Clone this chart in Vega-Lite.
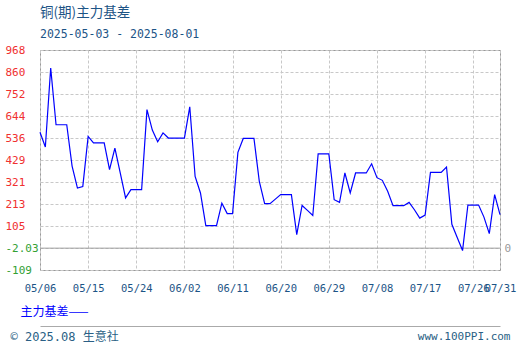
{
  "$schema": "https://vega.github.io/schema/vega-lite/v6.json",
  "width": 460,
  "height": 220,
  "autosize": {"type": "none"},
  "padding": {"left": 40, "top": 50, "right": 20, "bottom": 80},
  "background": "white",
  "title": {
    "text": "铜(期)主力基差",
    "subtitle": "2025-05-03 - 2025-08-01",
    "anchor": "start",
    "frame": "group",
    "font": "Noto Sans CJK SC",
    "fontSize": 13.5,
    "fontWeight": "normal",
    "color": "#1c5486",
    "subtitleFont": "DejaVu Sans Mono",
    "subtitleFontSize": 11.5,
    "subtitleColor": "#1c5486",
    "subtitlePadding": 9,
    "offset": 4
  },
  "config": {"view": {"stroke": "#999", "strokeWidth": 1}},
  "layer": [
    {
      "data": {"values": [{"base": -2.03, "start": "2025-05-06", "end": "2025-07-31"}]},
      "mark": {"type": "rule", "color": "#a0a0a0", "strokeWidth": 1},
      "encoding": {
        "x": {
          "field": "start",
          "type": "temporal",
          "scale": {"type": "utc", "domain": [{"year": 2025, "month": 5, "date": 6, "utc": true}, {"year": 2025, "month": 7, "date": 31, "utc": true}], "nice": false},
          "axis": {
            "orient": "bottom",
            "offset": 56,
            "grid": false,
            "labels": false,
            "ticks": false,
            "domain": true,
            "domainColor": "#aaaaaa",
            "domainWidth": 1,
            "title": "© 2025.08 生意社",
            "titleX": -30,
            "titleY": 10,
            "titleAlign": "left",
            "titleBaseline": "middle",
            "titleFont": "DejaVu Sans Mono, Noto Sans CJK SC",
            "titleFontSize": 12,
            "titleFontWeight": "normal",
            "titleColor": "#2a5f85"
          }
        },
        "x2": {"field": "end"},
        "y": {
          "field": "base",
          "type": "quantitative",
          "scale": {"domain": [-109, 968], "nice": false, "zero": false},
          "axis": {
            "orient": "right",
            "values": [-2.03],
            "labelExpr": "'0'",
            "labelColor": "#999999",
            "labelFont": "DejaVu Sans Mono",
            "labelFontSize": 11,
            "labelPadding": 4,
            "ticks": false,
            "domain": false,
            "grid": false,
            "title": "www.100PPI.com",
            "titleAngle": 0,
            "titleX": 10,
            "titleY": 286,
            "titleAlign": "right",
            "titleBaseline": "middle",
            "titleFont": "DejaVu Sans Mono",
            "titleFontSize": 11,
            "titleFontWeight": "normal",
            "titleColor": "#2a5f85"
          }
        }
      }
    },
    {
      "data": {"values": [
        {"date": "2025-05-06", "basis": 565},
        {"date": "2025-05-07", "basis": 493},
        {"date": "2025-05-08", "basis": 880},
        {"date": "2025-05-09", "basis": 602},
        {"date": "2025-05-10", "basis": 602},
        {"date": "2025-05-11", "basis": 602},
        {"date": "2025-05-12", "basis": 400},
        {"date": "2025-05-13", "basis": 292},
        {"date": "2025-05-14", "basis": 300},
        {"date": "2025-05-15", "basis": 545},
        {"date": "2025-05-16", "basis": 513},
        {"date": "2025-05-17", "basis": 513},
        {"date": "2025-05-18", "basis": 513},
        {"date": "2025-05-19", "basis": 382},
        {"date": "2025-05-20", "basis": 488},
        {"date": "2025-05-21", "basis": 366},
        {"date": "2025-05-22", "basis": 244},
        {"date": "2025-05-23", "basis": 284},
        {"date": "2025-05-24", "basis": 284},
        {"date": "2025-05-25", "basis": 284},
        {"date": "2025-05-26", "basis": 676},
        {"date": "2025-05-27", "basis": 576},
        {"date": "2025-05-28", "basis": 519},
        {"date": "2025-05-29", "basis": 562},
        {"date": "2025-05-30", "basis": 537},
        {"date": "2025-05-31", "basis": 537},
        {"date": "2025-06-01", "basis": 537},
        {"date": "2025-06-02", "basis": 537},
        {"date": "2025-06-03", "basis": 690},
        {"date": "2025-06-04", "basis": 349},
        {"date": "2025-06-05", "basis": 268},
        {"date": "2025-06-06", "basis": 108},
        {"date": "2025-06-07", "basis": 108},
        {"date": "2025-06-08", "basis": 108},
        {"date": "2025-06-09", "basis": 218},
        {"date": "2025-06-10", "basis": 167},
        {"date": "2025-06-11", "basis": 167},
        {"date": "2025-06-12", "basis": 467},
        {"date": "2025-06-13", "basis": 535},
        {"date": "2025-06-14", "basis": 535},
        {"date": "2025-06-15", "basis": 535},
        {"date": "2025-06-16", "basis": 325},
        {"date": "2025-06-17", "basis": 216},
        {"date": "2025-06-18", "basis": 216},
        {"date": "2025-06-19", "basis": 238},
        {"date": "2025-06-20", "basis": 260},
        {"date": "2025-06-21", "basis": 260},
        {"date": "2025-06-22", "basis": 260},
        {"date": "2025-06-23", "basis": 64},
        {"date": "2025-06-24", "basis": 207},
        {"date": "2025-06-25", "basis": 183},
        {"date": "2025-06-26", "basis": 158},
        {"date": "2025-06-27", "basis": 459},
        {"date": "2025-06-28", "basis": 459},
        {"date": "2025-06-29", "basis": 459},
        {"date": "2025-06-30", "basis": 235},
        {"date": "2025-07-01", "basis": 222},
        {"date": "2025-07-02", "basis": 366},
        {"date": "2025-07-03", "basis": 268},
        {"date": "2025-07-04", "basis": 366},
        {"date": "2025-07-05", "basis": 366},
        {"date": "2025-07-06", "basis": 366},
        {"date": "2025-07-07", "basis": 411},
        {"date": "2025-07-08", "basis": 343},
        {"date": "2025-07-09", "basis": 330},
        {"date": "2025-07-10", "basis": 276},
        {"date": "2025-07-11", "basis": 206},
        {"date": "2025-07-12", "basis": 206},
        {"date": "2025-07-13", "basis": 206},
        {"date": "2025-07-14", "basis": 222},
        {"date": "2025-07-15", "basis": 186},
        {"date": "2025-07-16", "basis": 145},
        {"date": "2025-07-17", "basis": 160},
        {"date": "2025-07-18", "basis": 369},
        {"date": "2025-07-19", "basis": 369},
        {"date": "2025-07-20", "basis": 369},
        {"date": "2025-07-21", "basis": 395},
        {"date": "2025-07-22", "basis": 115},
        {"date": "2025-07-23", "basis": 50},
        {"date": "2025-07-24", "basis": -14},
        {"date": "2025-07-25", "basis": 209},
        {"date": "2025-07-26", "basis": 209},
        {"date": "2025-07-27", "basis": 209},
        {"date": "2025-07-28", "basis": 150},
        {"date": "2025-07-29", "basis": 69},
        {"date": "2025-07-30", "basis": 260},
        {"date": "2025-07-31", "basis": 162}
      ]},
      "mark": {"type": "line", "color": "#0000ff", "strokeWidth": 1.2},
      "encoding": {
        "x": {
          "field": "date",
          "type": "temporal",
          "scale": {"type": "utc", "domain": [{"year": 2025, "month": 5, "date": 6, "utc": true}, {"year": 2025, "month": 7, "date": 31, "utc": true}], "nice": false},
          "axis": {
            "orient": "bottom",
            "values": [
              {"year": 2025, "month": 5, "date": 6, "utc": true},
              {"year": 2025, "month": 5, "date": 15, "utc": true},
              {"year": 2025, "month": 5, "date": 24, "utc": true},
              {"year": 2025, "month": 6, "date": 2, "utc": true},
              {"year": 2025, "month": 6, "date": 11, "utc": true},
              {"year": 2025, "month": 6, "date": 20, "utc": true},
              {"year": 2025, "month": 6, "date": 29, "utc": true},
              {"year": 2025, "month": 7, "date": 8, "utc": true},
              {"year": 2025, "month": 7, "date": 17, "utc": true},
              {"year": 2025, "month": 7, "date": 26, "utc": true},
              {"year": 2025, "month": 7, "date": 31, "utc": true}
            ],
            "labelExpr": "utcFormat(datum.value, '%m/%d')",
            "labelOverlap": false,
            "labelFlush": false,
            "labelFont": "DejaVu Sans Mono",
            "labelFontSize": 10.5,
            "labelColor": "#1c5486",
            "labelPadding": 13,
            "ticks": false,
            "domain": false,
            "grid": true,
            "gridColor": "#c8c8c8",
            "gridDash": [3, 2],
            "gridWidth": 1,
            "title": "主力基差——",
            "titleX": -20,
            "titleY": 41,
            "titleAlign": "left",
            "titleBaseline": "middle",
            "titleFont": "Noto Sans CJK SC",
            "titleFontSize": 12,
            "titleFontWeight": "normal",
            "titleColor": "#0000ff"
          }
        },
        "y": {
          "field": "basis",
          "type": "quantitative",
          "scale": {"domain": [-109, 968], "nice": false, "zero": false},
          "axis": {
            "orient": "left",
            "values": [-109, -2.03, 105, 213, 321, 429, 536, 644, 752, 860, 968],
            "labelExpr": "'' + datum.value",
            "labelColor": {"condition": {"test": "datum.value < 0", "value": "#33a033"}, "value": "#f03030"},
            "labelFont": "DejaVu Sans Mono",
            "labelFontSize": 11,
            "labelAlign": "left",
            "labelBaseline": "middle",
            "labelPadding": 35,
            "ticks": false,
            "domain": false,
            "grid": true,
            "gridColor": "#c8c8c8",
            "gridDash": [3, 2],
            "gridWidth": 1,
            "title": null
          }
        }
      }
    }
  ],
  "resolve": {"axis": {"x": "independent", "y": "independent"}}
}
